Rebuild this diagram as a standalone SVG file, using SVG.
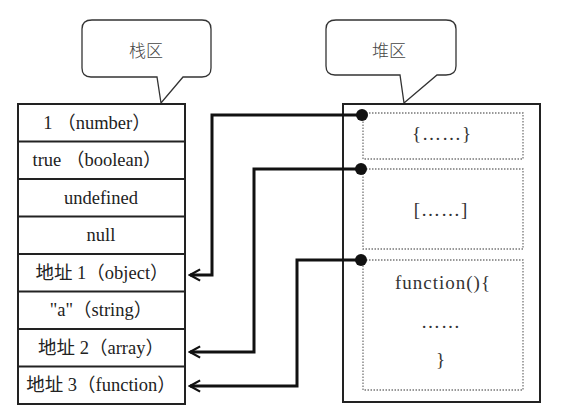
<svg xmlns="http://www.w3.org/2000/svg" width="569" height="417" viewBox="0 0 569 417">
<defs>
<style>
.t{font-family:"Liberation Serif","Noto Sans CJK SC",serif;font-size:18.5px;fill:#222;text-anchor:middle}
.h{font-family:"Liberation Serif","Noto Sans CJK SC",serif;font-size:19px;fill:#333;text-anchor:middle;letter-spacing:1px}
.c{font-family:"Noto Sans CJK SC",sans-serif;font-size:17px;fill:#444;text-anchor:middle;font-weight:300}
.box{fill:#fff;stroke:#222;stroke-width:2}
.row{stroke:#222;stroke-width:2}
.dot{fill:none;stroke:#777;stroke-width:1.3;stroke-dasharray:1.5 1.5}
.bub{fill:#fff;stroke:#333;stroke-width:1.3}
.conn{fill:none;stroke:#111;stroke-width:3}
</style>
<marker id="ah" viewBox="0 0 12 12" refX="10" refY="6" markerWidth="4.5" markerHeight="4.5" orient="auto" markerUnits="strokeWidth">
<path d="M1,1 L10,6 L1,11" fill="none" stroke="#111" stroke-width="2"/>
</marker>
</defs>
<rect width="569" height="417" fill="#fff"/>

<g id="stack-bubble">
<path class="bub" d="M92,20 H202 Q211,20 211,29 V68 Q211,77 202,77 H183 L161,103 L157,77 H91 Q82,77 82,68 V29 Q82,20 92,20 Z"/>
<text class="c" x="146" y="57">栈区</text>
</g>

<g id="heap-bubble">
<path class="bub" d="M336,20 H446 Q456,20 456,29 V66 Q456,75 446,75 H437 L404,103 L400,75 H335 Q326,75 326,66 V29 Q326,20 336,20 Z"/>
<text class="c" x="389" y="57">堆区</text>
</g>

<g id="stack">
<rect class="box" x="18" y="104" width="167" height="300"/>
<line class="row" x1="18" y1="141.5" x2="185" y2="141.5"/>
<line class="row" x1="18" y1="179" x2="185" y2="179"/>
<line class="row" x1="18" y1="216.5" x2="185" y2="216.5"/>
<line class="row" x1="18" y1="254" x2="185" y2="254"/>
<line class="row" x1="18" y1="291.5" x2="185" y2="291.5"/>
<line class="row" x1="18" y1="329" x2="185" y2="329"/>
<line class="row" x1="18" y1="366.5" x2="185" y2="366.5"/>
<text class="t" x="97" y="129">1 （number）</text>
<text class="t" x="97" y="166">true （boolean）</text>
<text class="t" x="101" y="204">undefined</text>
<text class="t" x="101" y="241">null</text>
<text class="t" x="102" y="279">地址 1（object）</text>
<text class="t" x="101" y="316">"a"（string）</text>
<text class="t" x="101" y="354">地址 2（array）</text>
<text class="t" x="101" y="391">地址 3（function）</text>
</g>

<g id="heap">
<rect class="box" x="343" y="104" width="197" height="298"/>
<rect class="dot" x="363" y="113" width="160" height="46"/>
<rect class="dot" x="363" y="169" width="160" height="80"/>
<rect class="dot" x="363" y="260" width="160" height="130"/>
<text class="h" x="442" y="140">{……}</text>
<text class="h" x="441" y="216">[……]</text>
<text class="h" x="443" y="289">function(){</text>
<text class="h" x="441" y="328">……</text>
<text class="h" x="441" y="366">}</text>
</g>

<g id="connectors">
<path class="conn" d="M362,115 H212 V275 H190" marker-end="url(#ah)"/>
<path class="conn" d="M361,169 H254 V352 H190" marker-end="url(#ah)"/>
<path class="conn" d="M361,260 H297 V386 H190" marker-end="url(#ah)"/>
<circle cx="362" cy="115" r="6" fill="#111"/>
<circle cx="361" cy="169" r="6" fill="#111"/>
<circle cx="361" cy="260" r="6" fill="#111"/>
</g>
</svg>
